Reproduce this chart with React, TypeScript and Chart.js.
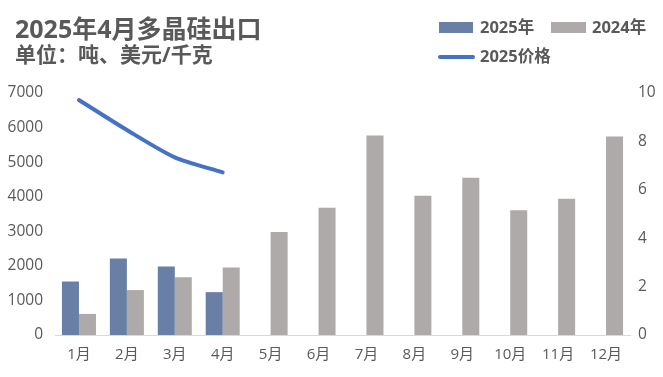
import React, { useEffect, useRef } from "react";
import { Chart, registerables } from "chart.js";

Chart.register(...registerables);

const months = ["1月", "2月", "3月", "4月", "5月", "6月", "7月", "8月", "9月", "10月", "11月", "12月"];
const exports2025 = [1550, 2210, 1980, 1240, null, null, null, null, null, null, null, null];
const exports2024 = [610, 1300, 1670, 1950, 2980, 3680, 5770, 4030, 4550, 3610, 3940, 5740];
const price2025 = [9.71, 8.47, 7.34, 6.72, null, null, null, null, null, null, null, null];
const leftTicks = [0, 1000, 2000, 3000, 4000, 5000, 6000, 7000];
const rightTicks = [0, 2, 4, 6, 8, 10];

const TEXT = "#595959";
const FONT = "'Open Sans', 'Noto Sans CJK SC', sans-serif";
const C2025 = "#6a7fa6";
const C2024 = "#aeaaa9";
const CLINE = "#4472c4";

export default function App() {
  const ref = useRef<HTMLCanvasElement | null>(null);
  useEffect(() => {
    if (!ref.current) return;
    const chart = new Chart(ref.current, {
      type: "bar",
      data: {
        labels: months,
        datasets: [
          {
            type: "line",
            label: "2025价格",
            data: price2025,
            yAxisID: "y1",
            borderColor: CLINE,
            borderWidth: 4,
            pointRadius: 0,
            tension: 0.25,
            borderCapStyle: "round",
            spanGaps: false,
            order: 0,
          } as any,
          {
            label: "2025年",
            data: exports2025,
            backgroundColor: C2025,
            yAxisID: "y",
            barPercentage: 1,
            categoryPercentage: 0.71,
            order: 1,
          },
          {
            label: "2024年",
            data: exports2024,
            backgroundColor: C2024,
            yAxisID: "y",
            barPercentage: 1,
            categoryPercentage: 0.71,
            order: 1,
          },
        ],
      },
      options: {
        animation: false,
        responsive: false,
        maintainAspectRatio: false,
        layout: { padding: { top: 93, left: 0, right: 0, bottom: 0 } },
        plugins: { legend: { display: false }, tooltip: { enabled: false }, title: { display: false } },
        scales: {
          x: {
            grid: { display: false, drawTicks: false },
            border: { display: true, color: "#d9d9d9", width: 1 },
            ticks: { color: TEXT, font: { family: FONT, size: 15 }, padding: 11 },
            afterFit: (s: any) => { s.height = 42; },
          },
          y: {
            position: "left",
            min: 0,
            max: 7000,
            afterBuildTicks: (s: any) => { s.ticks = leftTicks.map((v) => ({ value: v })); },
            grid: { display: false, drawTicks: false },
            border: { display: false },
            ticks: { color: TEXT, font: { family: FONT, size: 15.5 }, padding: 12, callback: (v: any) => String(v) },
            afterFit: (s: any) => { s.width = 55; },
          },
          y1: {
            position: "right",
            min: 0,
            max: 10,
            afterBuildTicks: (s: any) => { s.ticks = rightTicks.map((v) => ({ value: v })); },
            grid: { display: false, drawTicks: false },
            border: { display: false },
            ticks: { color: TEXT, font: { family: FONT, size: 15.5 }, padding: 8, callback: (v: any) => String(v) },
            afterFit: (s: any) => { s.width = 33; },
          },
        },
      },
    });
    return () => chart.destroy();
  }, []);

  const txt: React.CSSProperties = { position: "absolute", color: TEXT, fontFamily: FONT, fontWeight: 700, whiteSpace: "nowrap", lineHeight: 1 };
  return (
    <div style={{ position: "absolute", left: 0, top: 0, width: 663, height: 377, background: "#fff" }}>
      <canvas ref={ref} width={663} height={377} style={{ position: "absolute", left: 0, top: 0, width: 663, height: 377 }} />
      <div style={{ ...txt, left: 15, top: 16, fontSize: 25 }}>2025年4月多晶硅出口</div>
      <div style={{ ...txt, left: 15, top: 44, fontSize: 21 }}>单位：吨、美元/千克</div>
      <div style={{ position: "absolute", left: 439, top: 22, width: 34, height: 11, background: C2025 }} />
      <div style={{ ...txt, left: 480, top: 19, fontSize: 16.5 }}>2025年</div>
      <div style={{ position: "absolute", left: 551, top: 22, width: 35, height: 11, background: C2024 }} />
      <div style={{ ...txt, left: 592, top: 19, fontSize: 16.5 }}>2024年</div>
      <div style={{ position: "absolute", left: 438, top: 55, width: 37, height: 4, borderRadius: 2, background: CLINE }} />
      <div style={{ ...txt, left: 480, top: 48, fontSize: 16.5 }}>2025价格</div>
    </div>
  );
}
